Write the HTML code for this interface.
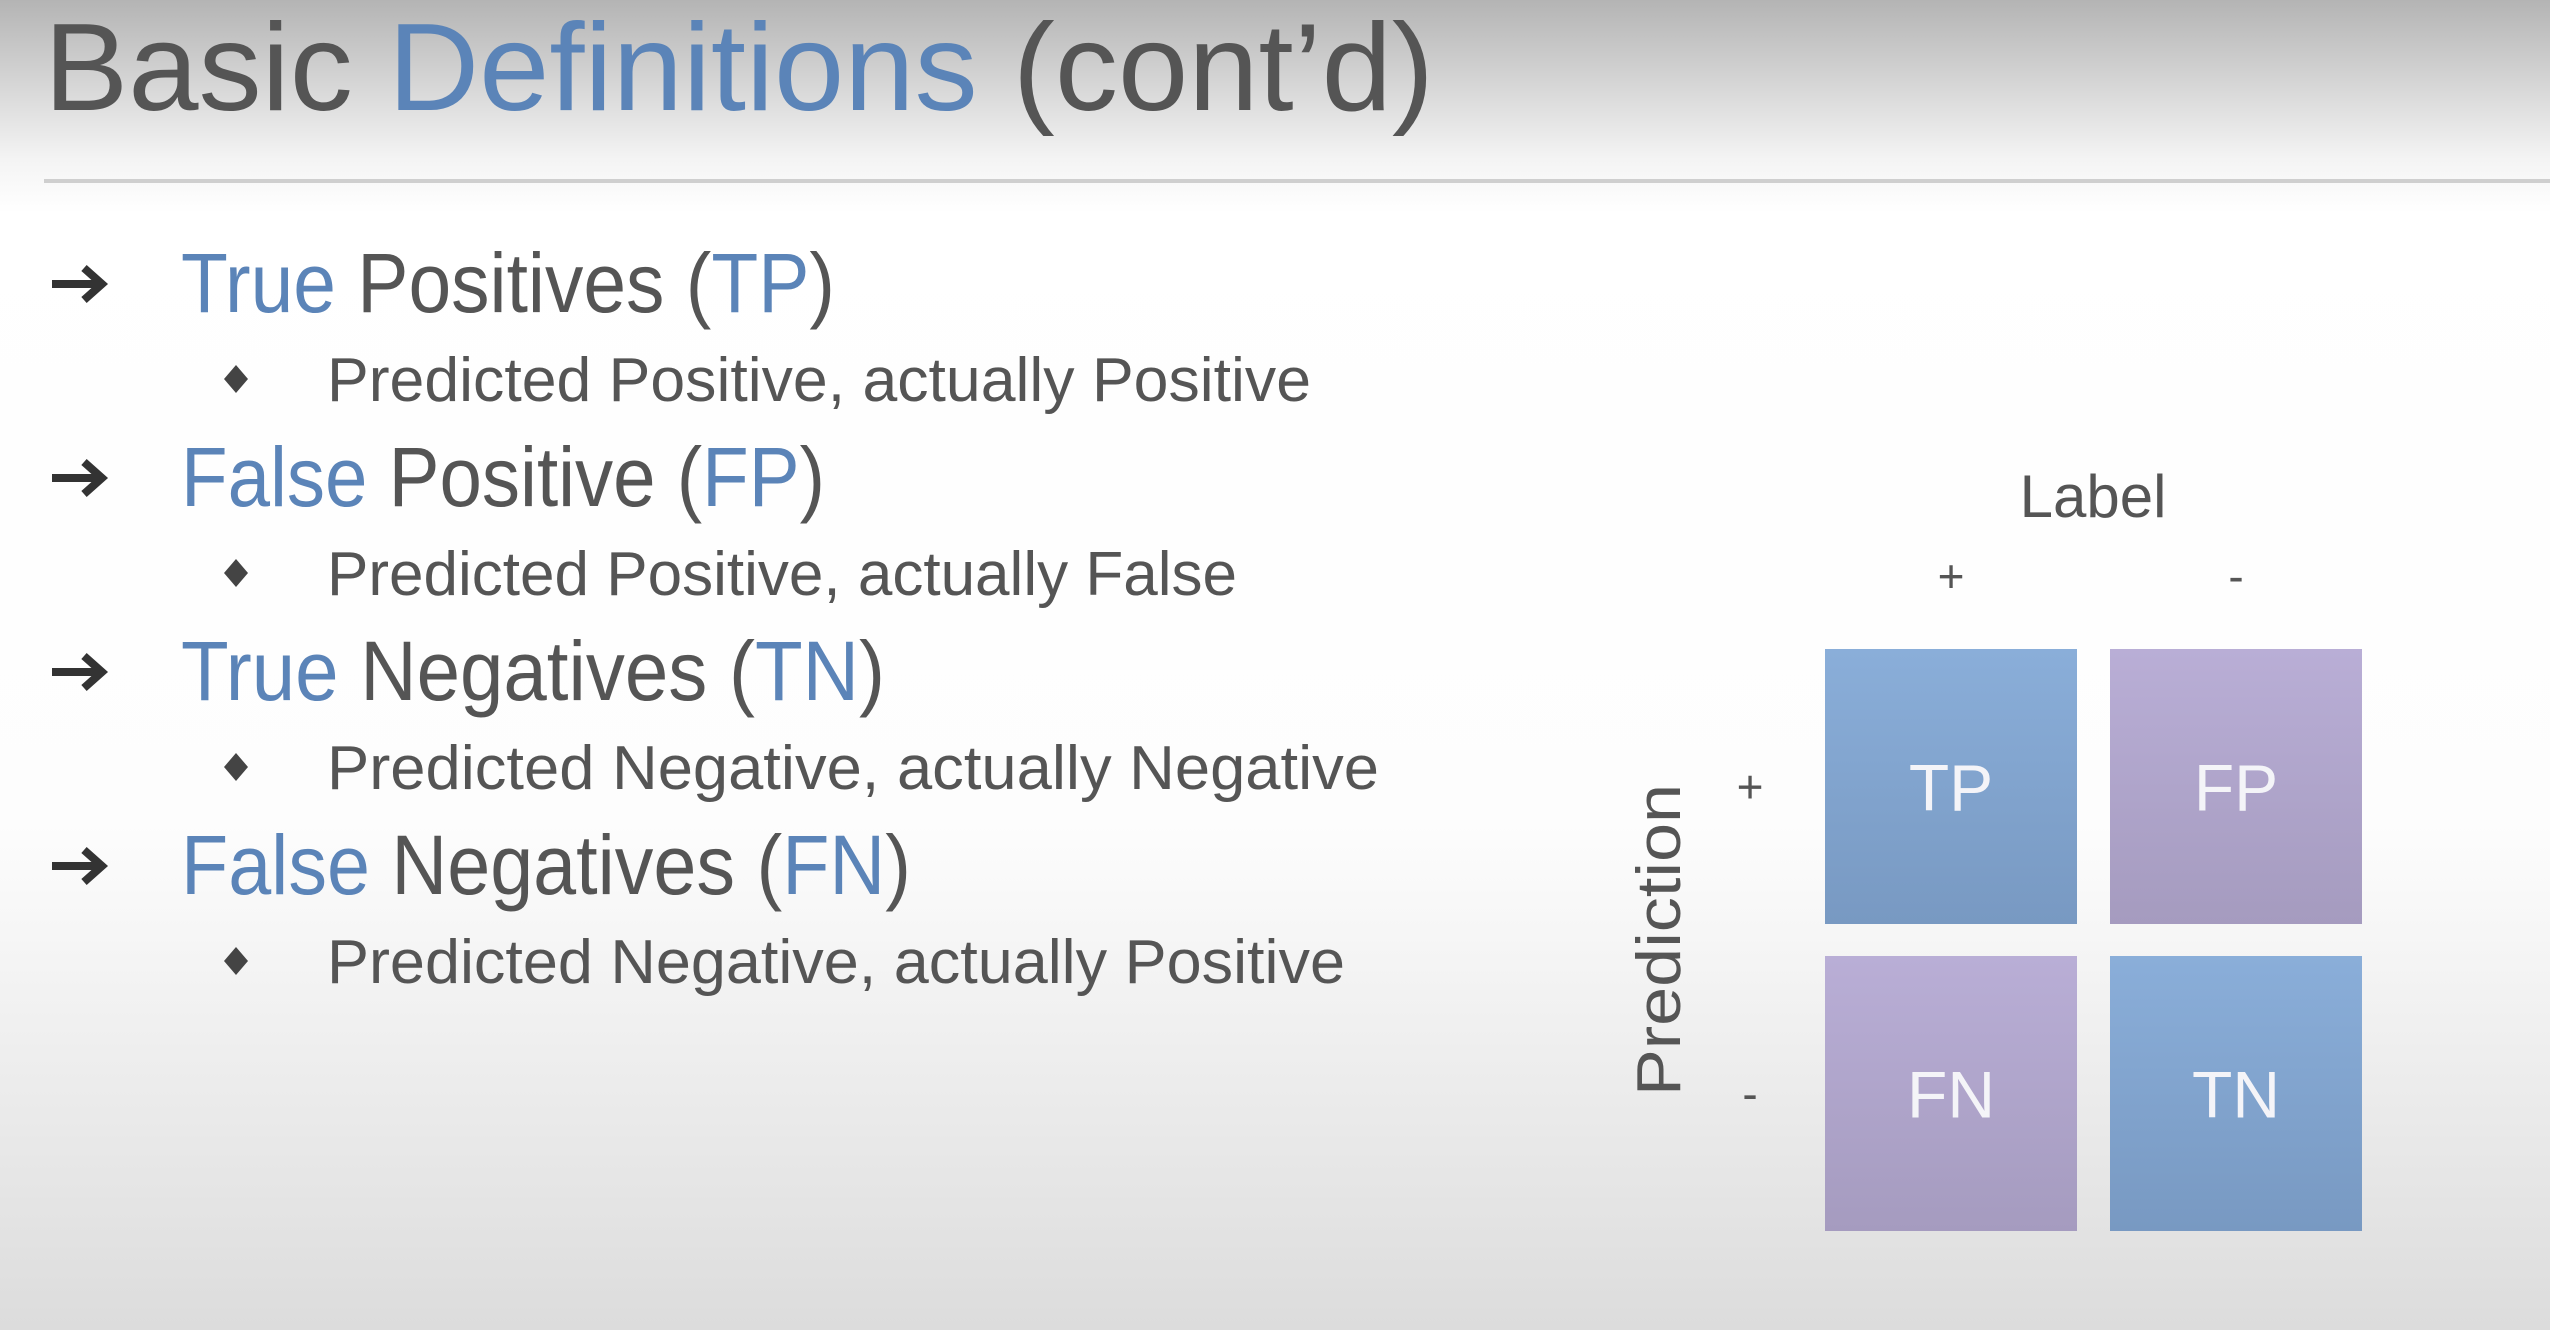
<!DOCTYPE html>
<html><head><meta charset="utf-8"><style>
html,body{margin:0;padding:0;width:2550px;height:1330px;overflow:hidden}
svg{display:block}
text{font-family:"Liberation Sans","DejaVu Sans",sans-serif}
</style></head><body>
<svg id="s" width="2550" height="1330" viewBox="0 0 2550 1330">
<defs>
<linearGradient id="bg" x1="0" y1="0" x2="0" y2="1">
<stop offset="0" stop-color="#b4b4b4"/><stop offset="0.12" stop-color="#f4f4f4"/><stop offset="0.16" stop-color="#ffffff"/>
<stop offset="0.62" stop-color="#fdfdfd"/><stop offset="1" stop-color="#dcdcdc"/></linearGradient>
<linearGradient id="gb" x1="0" y1="0" x2="0" y2="1"><stop offset="0" stop-color="#8aaed9"/><stop offset="1" stop-color="#7899c2"/></linearGradient>
<linearGradient id="gp" x1="0" y1="0" x2="0" y2="1"><stop offset="0" stop-color="#b9aed6"/><stop offset="1" stop-color="#a59bbf"/></linearGradient>
</defs>
<rect width="2550" height="1330" fill="url(#bg)"/>
<text x="44" y="110" font-size="124" fill="#555" textLength="1390" lengthAdjust="spacingAndGlyphs">Basic <tspan fill="#5b84b8">Definitions</tspan> (cont’d)</text>
<rect x="44" y="179" width="2506" height="4" fill="#cfcfcf"/>
<g id="list"></g>
<g id="mx"></g>
</svg>
<script>
const terms=["True","False","True","False"];
const rests=[" Positives ("," Positive ("," Negatives ("," Negatives ("];
const abbrs=["TP","FP","TN","FN"];
const subs=["Predicted Positive, actually Positive","Predicted Positive, actually False","Predicted Negative, actually Negative","Predicted Negative, actually Positive"];
const headW=[654,644,704,730];
const subW=[984,910,1052,1018];
const colLabels=["+","-"];
const rowLabels=["+","-"];
const cellLabels=[["TP","FP"],["FN","TN"]];
const cellKind=[["b","p"],["p","b"]];
const NS="http://www.w3.org/2000/svg";
function mk(t,a,p){const e=document.createElementNS(NS,t);for(const k in a)e.setAttribute(k,a[k]);p.appendChild(e);return e;}
const L=document.getElementById('list');
for(let i=0;i<terms.length;i++){
  const by=312+i*194;
  const ay=by-28;
  const ar=mk('path',{d:`M52 ${ay} H100 M84 ${ay-16} L102 ${ay} L84 ${ay+16}`,stroke:'#333','stroke-width':8,fill:'none','stroke-linecap':'butt','stroke-linejoin':'miter'},L);
  
  
  const h=mk('text',{x:181,y:by,'font-size':84,fill:'#555',textLength:headW[i],lengthAdjust:'spacingAndGlyphs'},L);
  
  
  const t1=mk('tspan',{fill:'#5b84b8'},h);t1.textContent=terms[i];
  const t2=mk('tspan',{},h);t2.textContent=rests[i];
  const t3=mk('tspan',{fill:'#5b84b8'},h);t3.textContent=abbrs[i];
  const t4=mk('tspan',{},h);t4.textContent=')';
  const sy=by+89;
  const d=mk('path',{d:`M236 ${sy-36} l12 14 l-12 14 l-12 -14 z`,fill:'#444'},L);
  
  
  const s=mk('text',{x:327,y:sy,'font-size':62,fill:'#555',textLength:subW[i],lengthAdjust:'spacingAndGlyphs'},L);
  s.textContent=subs[i];
  
  
}
const M=document.getElementById('mx');
const x0=1825,y0=649,cw=252,ch=275,gx=33,gy=32;
const cx=c=>x0+c*(cw+gx), cy=r=>y0+r*(ch+gy);
const lab=mk('text',{x:2093,y:517,'font-size':60,fill:'#555','text-anchor':'middle'},M);lab.textContent='Label';


const pr=mk('text',{x:0,y:0,'font-size':62,fill:'#555','text-anchor':'middle',transform:'translate(1680 940) rotate(-90)',textLength:312,lengthAdjust:'spacingAndGlyphs'},M);pr.textContent='Prediction';


colLabels.forEach((c,i)=>{const t=mk('text',{x:cx(i)+cw/2,y:592,'font-size':46,fill:'#555','text-anchor':'middle'},M);t.textContent=c;
  
  });
rowLabels.forEach((c,i)=>{const t=mk('text',{x:1750,y:cy(i)+ch/2+16,'font-size':46,fill:'#555','text-anchor':'middle'},M);t.textContent=c;
  
  });
for(let r=0;r<2;r++)for(let c=0;c<2;c++){
  const rc=mk('rect',{x:cx(c),y:cy(r),width:cw,height:ch,fill:cellKind[r][c]=='b'?'url(#gb)':'url(#gp)'},M);
  
  
  const t=mk('text',{x:cx(c)+cw/2,y:cy(r)+ch/2+24,'font-size':66,fill:'#f4f4f8','text-anchor':'middle'},M);t.textContent=cellLabels[r][c];
  
  
}
</script>
</body></html>
